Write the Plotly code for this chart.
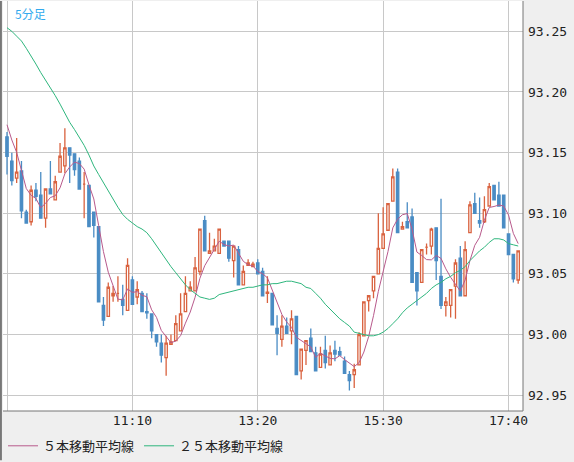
import pandas as pd
import plotly.graph_objects as go

# 5-minute candles, 09:00 .. 17:50
opens = [93.163, 93.143, 93.129, 93.135, 93.101, 93.093, 93.119, 93.115, 93.096, 93.120,
         93.111, 93.134, 93.139, 93.154, 93.149, 93.143, 93.124, 93.123, 93.101, 93.089,
         93.024, 93.015, 93.032, 93.034, 93.029, 93.020, 93.045, 93.031, 93.034, 93.019,
         93.017, 93.000, 92.993, 92.981, 92.992, 92.995, 93.003, 93.019, 93.036, 93.036,
         93.052, 93.094, 93.067, 93.069, 93.067, 93.077, 93.077, 93.061, 93.070, 93.041,
         93.057, 93.056, 93.059, 93.052, 93.034, 93.034, 93.005, 92.996, 93.007, 93.003,
         93.015, 92.970, 92.987, 92.997, 92.985, 92.973, 92.987, 92.975, 92.987, 92.986,
         92.978, 92.967, 92.967, 92.975, 92.999, 93.028, 93.036, 93.050, 93.071, 93.086,
         93.110, 93.134, 93.087, 93.093, 93.097, 93.051, 93.043, 93.072, 93.073, 93.088,
         93.048, 93.024, 93.024, 93.040, 93.063, 93.032, 93.084, 93.108, 93.094, 93.093,
         93.106, 93.123, 93.115, 93.115, 93.083, 93.066, 93.045]
highs = [93.167, 93.150, 93.162, 93.143, 93.103, 93.123, 93.125, 93.134, 93.120, 93.143,
         93.131, 93.158, 93.170, 93.154, 93.149, 93.146, 93.134, 93.123, 93.101, 93.089,
         93.031, 93.043, 93.040, 93.048, 93.041, 93.063, 93.048, 93.044, 93.036, 93.034,
         93.017, 93.000, 93.000, 92.999, 93.000, 93.016, 93.034, 93.048, 93.044, 93.064,
         93.087, 93.098, 93.084, 93.079, 93.087, 93.077, 93.077, 93.073, 93.073, 93.057,
         93.062, 93.060, 93.062, 93.055, 93.048, 93.034, 93.016, 93.016, 93.014, 93.020,
         93.015, 92.988, 92.995, 93.005, 92.990, 92.990, 92.999, 92.991, 92.995, 92.990,
         92.982, 92.970, 92.976, 93.002, 93.027, 93.032, 93.048, 93.100, 93.105, 93.108,
         93.137, 93.137, 93.093, 93.109, 93.104, 93.051, 93.070, 93.075, 93.088, 93.088,
         93.112, 93.031, 93.037, 93.062, 93.073, 93.077, 93.110, 93.117, 93.113, 93.114,
         93.125, 93.123, 93.126, 93.115, 93.083, 93.066, 93.069]
lows = [93.132, 93.123, 93.125, 93.096, 93.092, 93.090, 93.110, 93.096, 93.088, 93.116,
        93.111, 93.134, 93.133, 93.125, 93.131, 93.120, 93.096, 93.089, 93.080, 93.027,
        93.007, 93.015, 93.027, 93.027, 93.016, 93.020, 93.025, 93.025, 93.019, 93.013,
        92.997, 92.990, 92.977, 92.966, 92.992, 92.995, 93.003, 93.019, 93.036, 93.036,
        93.049, 93.069, 93.067, 93.069, 93.067, 93.073, 93.060, 93.047, 93.041, 93.041,
        93.057, 93.056, 93.050, 93.032, 93.026, 93.008, 92.983, 92.990, 93.001, 92.992,
        92.967, 92.963, 92.975, 92.986, 92.970, 92.973, 92.972, 92.975, 92.978, 92.983,
        92.968, 92.954, 92.956, 92.975, 92.999, 93.019, 93.030, 93.050, 93.071, 93.086,
        93.110, 93.084, 93.087, 93.088, 93.043, 93.024, 93.043, 93.066, 93.066, 93.045,
        93.021, 93.015, 93.014, 93.013, 93.032, 93.032, 93.084, 93.100, 93.088, 93.092,
        93.106, 93.111, 93.106, 93.088, 93.066, 93.043, 93.042]
closes = [93.147, 93.127, 93.134, 93.102, 93.092, 93.119, 93.114, 93.096, 93.120, 93.116,
          93.126, 93.147, 93.154, 93.148, 93.136, 93.120, 93.124, 93.089, 93.090, 93.027,
          93.012, 93.039, 93.034, 93.034, 93.024, 93.057, 93.025, 93.037, 93.019, 93.018,
          93.003, 92.994, 92.983, 92.993, 92.994, 93.009, 93.017, 93.034, 93.039, 93.055,
          93.087, 93.069, 93.069, 93.073, 93.087, 93.073, 93.063, 93.073, 93.041, 93.052,
          93.059, 93.058, 93.050, 93.032, 93.035, 93.008, 93.001, 93.007, 93.001, 93.013,
          92.967, 92.988, 92.995, 92.986, 92.970, 92.984, 92.977, 92.985, 92.984, 92.983,
          92.968, 92.962, 92.971, 93.000, 93.027, 93.032, 93.048, 93.071, 93.083, 93.108,
          93.130, 93.084, 93.089, 93.088, 93.043, 93.036, 93.070, 93.072, 93.087, 93.061,
          93.024, 93.027, 93.037, 93.059, 93.032, 93.070, 93.107, 93.100, 93.092, 93.103,
          93.122, 93.111, 93.106, 93.088, 93.066, 93.046, 93.069]
# closes of the 4 candles before 09:00 (needed for the first 5-bar averages)
prev_closes = [93.190, 93.185, 93.175, 93.168]

# 25-bar moving average
ma25 = [93.253, 93.250, 93.246, 93.242, 93.236, 93.230, 93.223, 93.216, 93.210, 93.203,
        93.197, 93.190, 93.182, 93.175, 93.169, 93.163, 93.156, 93.148, 93.139, 93.132,
        93.125, 93.118, 93.111, 93.105, 93.099, 93.095, 93.092, 93.089, 93.087, 93.084,
        93.079, 93.073, 93.067, 93.061, 93.056, 93.051, 93.046, 93.041, 93.037, 93.034,
        93.031, 93.030, 93.029, 93.030, 93.033, 93.034, 93.035, 93.036, 93.037, 93.038,
        93.039, 93.039, 93.040, 93.041, 93.041, 93.042, 93.042, 93.043, 93.044, 93.044,
        93.043, 93.042, 93.039, 93.038, 93.034, 93.030, 93.025, 93.021, 93.017, 93.013,
        93.010, 93.007, 93.002, 93.001, 93.000, 92.999, 92.999, 93.000, 93.002, 93.005,
        93.009, 93.013, 93.018, 93.022, 93.025, 93.028, 93.031, 93.034, 93.038, 93.041,
        93.043, 93.046, 93.048, 93.051, 93.053, 93.056, 93.061, 93.065, 93.069, 93.072,
        93.076, 93.079, 93.079, 93.078, 93.075, 93.074, 93.073]

tick_idx = [0, 26, 52, 78, 104]
tick_text = ["", "11:10", "13:20", "15:30", "17:40"]
y_ticks = [92.95, 93.00, 93.05, 93.10, 93.15, 93.20, 93.25]

times = pd.date_range("2021-01-01 09:00", periods=len(closes), freq="5min").strftime("%H:%M")
idx = list(range(len(closes)))
ma5 = pd.Series(prev_closes + closes).rolling(5).mean().tolist()[4:]

RED = "#d9623f"
BLUE = "#4a8cc4"

fig = go.Figure()
fig.add_trace(go.Candlestick(
    x=idx, open=opens, high=highs, low=lows, close=closes,
    text=list(times), hoverinfo="text",
    increasing=dict(line=dict(color=RED, width=1.3), fillcolor="white"),
    decreasing=dict(line=dict(color=BLUE, width=1.3), fillcolor=BLUE),
    whiskerwidth=0, showlegend=False,
))
fig.add_trace(go.Scatter(x=idx, y=ma5, mode="lines", name="５本移動平均線",
                         line=dict(color="#b85a8c", width=1)))
fig.add_trace(go.Scatter(x=idx, y=ma25, mode="lines", name="２５本移動平均線",
                         line=dict(color="#2eb67d", width=1)))

fig.update_layout(
    width=574, height=462,
    margin=dict(l=3, r=51, t=1, b=49),
    paper_bgcolor="#efefef", plot_bgcolor="white",
    font=dict(family="DejaVu Sans Mono", size=13, color="#222"),
    legend=dict(orientation="h", x=0.0, y=-0.085, yanchor="middle", xanchor="left",
                font=dict(family="Noto Sans CJK JP", size=13, color="#222"),
                bgcolor="rgba(0,0,0,0)", itemwidth=30),
    annotations=[dict(text="5分足", x=0.02, y=0.995, xref="paper", yref="paper",
                      xanchor="left", yanchor="top", showarrow=False,
                      font=dict(family="Noto Sans CJK JP", size=12, color="#33aaee"))],
    shapes=[
        dict(type="line", xref="paper", yref="paper", x0=-0.004, x1=-0.004, y0=-0.12, y1=1,
             line=dict(color="#777", width=2)),
        dict(type="line", xref="paper", yref="paper", x0=1, x1=1, y0=0, y1=1,
             line=dict(color="#777", width=1)),
        dict(type="line", xref="paper", yref="paper", x0=0, x1=1, y0=0, y1=0,
             line=dict(color="#777", width=1)),
    ],
    hovermode="x",
)
fig.update_xaxes(range=[-0.83, 107.0], tickvals=tick_idx, ticktext=tick_text,
                 showgrid=True, gridcolor="#c8c8c8", gridwidth=1, ticks="",
                 rangeslider_visible=False, zeroline=False)
fig.update_yaxes(range=[92.937, 93.275], side="right", tickvals=y_ticks,
                 tickformat=".2f", showgrid=True, gridcolor="#c8c8c8", gridwidth=1,
                 ticks="", ticklabelstandoff=4, zeroline=False)

fig.write_html("out.html", config={"displayModeBar": False},
               post_script="document.body.style.margin='0';")
